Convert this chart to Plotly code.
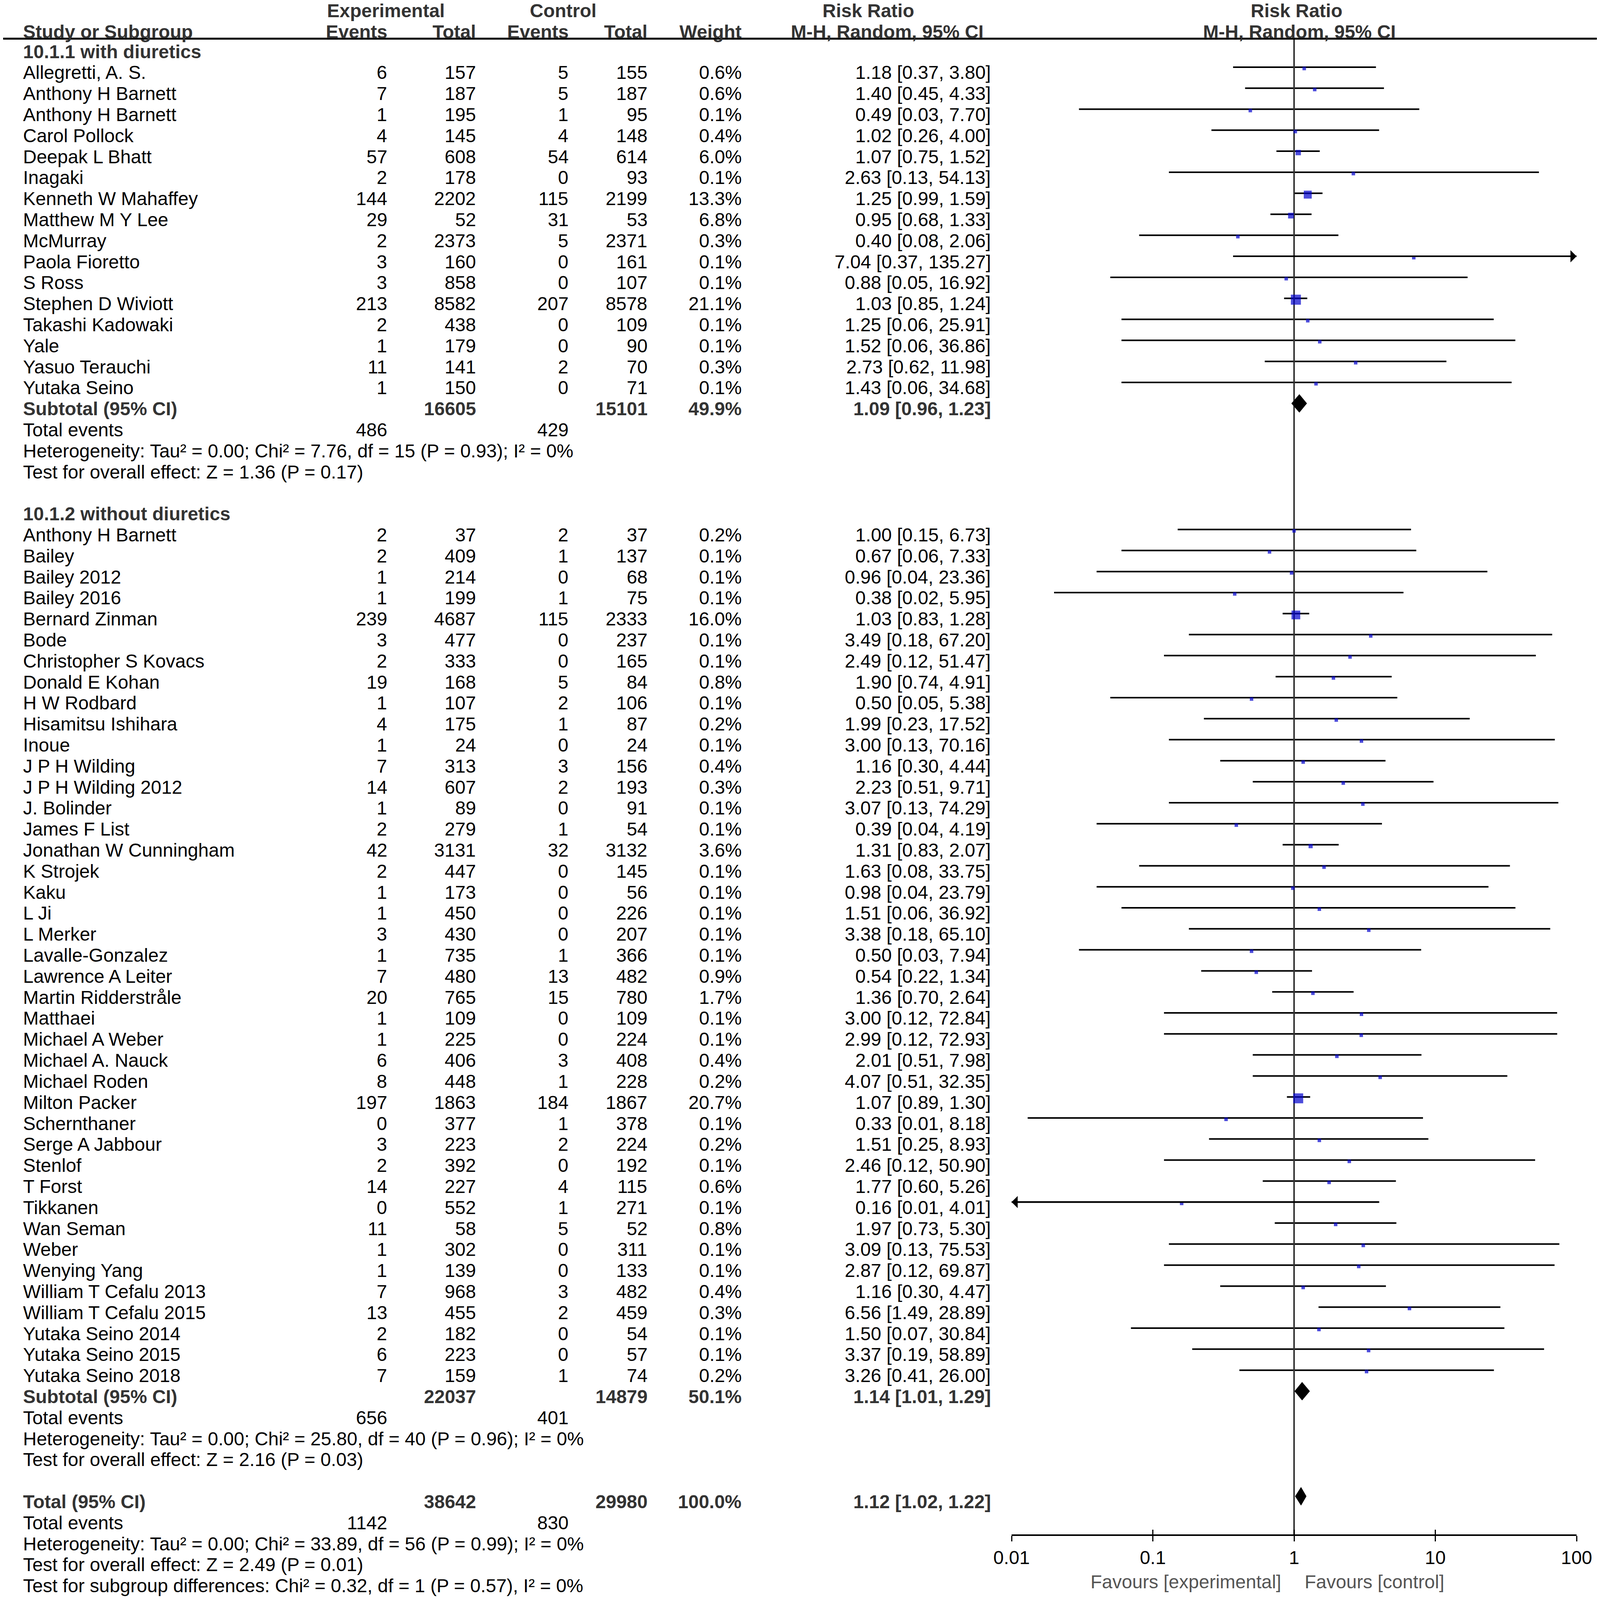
import math
import plotly.graph_objects as go

# ------------------------------------------------------------------ data
g1_label = "10.1.1 with diuretics"
g1_study = ["Allegretti, A. S.", "Anthony H Barnett", "Anthony H Barnett", "Carol Pollock",
            "Deepak L Bhatt", "Inagaki", "Kenneth W Mahaffey", "Matthew M Y Lee", "McMurray",
            "Paola Fioretto", "S Ross", "Stephen D Wiviott", "Takashi Kadowaki", "Yale",
            "Yasuo Terauchi", "Yutaka Seino"]
g1_ev_exp = [6, 7, 1, 4, 57, 2, 144, 29, 2, 3, 3, 213, 2, 1, 11, 1]
g1_tot_exp = [157, 187, 195, 145, 608, 178, 2202, 52, 2373, 160, 858, 8582, 438, 179, 141, 150]
g1_ev_ctl = [5, 5, 1, 4, 54, 0, 115, 31, 5, 0, 0, 207, 0, 0, 2, 0]
g1_tot_ctl = [155, 187, 95, 148, 614, 93, 2199, 53, 2371, 161, 107, 8578, 109, 90, 70, 71]
g1_weight = [0.6, 0.6, 0.1, 0.4, 6.0, 0.1, 13.3, 6.8, 0.3, 0.1, 0.1, 21.1, 0.1, 0.1, 0.3, 0.1]
g1_rr = [1.18, 1.40, 0.49, 1.02, 1.07, 2.63, 1.25, 0.95, 0.40, 7.04, 0.88, 1.03, 1.25, 1.52, 2.73, 1.43]
g1_lo = [0.37, 0.45, 0.03, 0.26, 0.75, 0.13, 0.99, 0.68, 0.08, 0.37, 0.05, 0.85, 0.06, 0.06, 0.62, 0.06]
g1_hi = [3.80, 4.33, 7.70, 4.00, 1.52, 54.13, 1.59, 1.33, 2.06, 135.27, 16.92, 1.24, 25.91, 36.86, 11.98, 34.68]

g2_label = "10.1.2 without diuretics"
g2_study = ["Anthony H Barnett", "Bailey", "Bailey 2012", "Bailey 2016", "Bernard Zinman", "Bode",
            "Christopher S Kovacs", "Donald E Kohan", "H W Rodbard", "Hisamitsu Ishihara", "Inoue",
            "J P H Wilding", "J P H Wilding 2012", "J. Bolinder", "James F List",
            "Jonathan W Cunningham", "K Strojek", "Kaku", "L Ji", "L Merker", "Lavalle-Gonzalez",
            "Lawrence A Leiter", "Martin Ridderstråle", "Matthaei", "Michael A Weber",
            "Michael A. Nauck", "Michael Roden", "Milton Packer", "Schernthaner", "Serge A Jabbour",
            "Stenlof", "T Forst", "Tikkanen", "Wan Seman", "Weber", "Wenying Yang",
            "William T Cefalu 2013", "William T Cefalu 2015", "Yutaka Seino 2014",
            "Yutaka Seino 2015", "Yutaka Seino 2018"]
g2_ev_exp = [2, 2, 1, 1, 239, 3, 2, 19, 1, 4, 1, 7, 14, 1, 2, 42, 2, 1, 1, 3, 1, 7, 20, 1, 1,
             6, 8, 197, 0, 3, 2, 14, 0, 11, 1, 1, 7, 13, 2, 6, 7]
g2_tot_exp = [37, 409, 214, 199, 4687, 477, 333, 168, 107, 175, 24, 313, 607, 89, 279, 3131, 447,
              173, 450, 430, 735, 480, 765, 109, 225, 406, 448, 1863, 377, 223, 392, 227, 552, 58,
              302, 139, 968, 455, 182, 223, 159]
g2_ev_ctl = [2, 1, 0, 1, 115, 0, 0, 5, 2, 1, 0, 3, 2, 0, 1, 32, 0, 0, 0, 0, 1, 13, 15, 0, 0,
             3, 1, 184, 1, 2, 0, 4, 1, 5, 0, 0, 3, 2, 0, 0, 1]
g2_tot_ctl = [37, 137, 68, 75, 2333, 237, 165, 84, 106, 87, 24, 156, 193, 91, 54, 3132, 145, 56,
              226, 207, 366, 482, 780, 109, 224, 408, 228, 1867, 378, 224, 192, 115, 271, 52, 311,
              133, 482, 459, 54, 57, 74]
g2_weight = [0.2, 0.1, 0.1, 0.1, 16.0, 0.1, 0.1, 0.8, 0.1, 0.2, 0.1, 0.4, 0.3, 0.1, 0.1, 3.6,
             0.1, 0.1, 0.1, 0.1, 0.1, 0.9, 1.7, 0.1, 0.1, 0.4, 0.2, 20.7, 0.1, 0.2, 0.1, 0.6,
             0.1, 0.8, 0.1, 0.1, 0.4, 0.3, 0.1, 0.1, 0.2]
g2_rr = [1.00, 0.67, 0.96, 0.38, 1.03, 3.49, 2.49, 1.90, 0.50, 1.99, 3.00, 1.16, 2.23, 3.07,
         0.39, 1.31, 1.63, 0.98, 1.51, 3.38, 0.50, 0.54, 1.36, 3.00, 2.99, 2.01, 4.07, 1.07,
         0.33, 1.51, 2.46, 1.77, 0.16, 1.97, 3.09, 2.87, 1.16, 6.56, 1.50, 3.37, 3.26]
g2_lo = [0.15, 0.06, 0.04, 0.02, 0.83, 0.18, 0.12, 0.74, 0.05, 0.23, 0.13, 0.30, 0.51, 0.13,
         0.04, 0.83, 0.08, 0.04, 0.06, 0.18, 0.03, 0.22, 0.70, 0.12, 0.12, 0.51, 0.51, 0.89,
         0.013, 0.25, 0.12, 0.60, 0.006, 0.73, 0.13, 0.12, 0.30, 1.49, 0.07, 0.19, 0.41]
g2_hi = [6.73, 7.33, 23.36, 5.95, 1.28, 67.20, 51.47, 4.91, 5.38, 17.52, 70.16, 4.44, 9.71,
         74.29, 4.19, 2.07, 33.75, 23.79, 36.92, 65.10, 7.94, 1.34, 2.64, 72.84, 72.93, 7.98,
         32.35, 1.30, 8.18, 8.93, 50.90, 5.26, 4.01, 5.30, 75.53, 69.87, 4.47, 28.89, 30.84,
         58.89, 26.00]

# subgroup summaries (group 1, group 2)
sub_tot_exp = [16605, 22037]
sub_tot_ctl = [15101, 14879]
sub_weight = [49.9, 50.1]
sub_rr = [1.09, 1.14]
sub_lo = [0.96, 1.01]
sub_hi = [1.23, 1.29]
sub_ev_exp = [486, 656]
sub_ev_ctl = [429, 401]
sub_tau2 = [0.00, 0.00]
sub_chi2 = [7.76, 25.80]
sub_df = [15, 40]
sub_het_p = [0.93, 0.96]
sub_i2 = [0, 0]
sub_z = [1.36, 2.16]
sub_z_p = [0.17, 0.03]

# overall
tot_tot_exp = 38642
tot_tot_ctl = 29980
tot_weight = 100.0
tot_rr, tot_lo, tot_hi = 1.12, 1.02, 1.22
tot_ev_exp, tot_ev_ctl = 1142, 830
tot_tau2, tot_chi2, tot_df, tot_het_p, tot_i2 = 0.00, 33.89, 56, 0.99, 0
tot_z, tot_z_p = 2.49, 0.01
sg_chi2, sg_df, sg_p, sg_i2 = 0.32, 1, 0.57, 0

tick_vals = [0.01, 0.1, 1, 10, 100]
tick_text = ["0.01", "0.1", "1", "10", "100"]
favours_left = "Favours [experimental]"
favours_right = "Favours [control]"

# ------------------------------------------------------------------ layout constants
# The browser viewport is capped at 4095 x 4096, so the figure keeps the reference's
# horizontal grid and compresses its vertical grid to fit.
W = 4095
FIG_H = 4096
REF_H = 5862                       # reference-pixel height mapped onto the figure
FONT = "Liberation Sans, Arial, Helvetica, sans-serif"
FS = 48
ROW0, ROWH = 189.0, 77.0           # reference-pixel centre of row 0, row pitch


def prow(py):                      # reference pixel -> row units
    return (py - ROW0) / ROWH


def frow(fp):                      # figure pixel -> row units
    return prow(fp * REF_H / FIG_H)


COL_X = [992, 1219, 1456, 1658, 1899, 2537]   # right edges of numeric columns
NAME_X = 58
FX0, FX1 = 2589, 4035                         # forest axis extent (0.01 .. 100)
LINE_DY = -20 / ROWH
MARK_DY = -15 / ROWH
DIA_H = 33 / ROWH
HEAD1_R = frow(27)
HEAD2_R = frow(81)
HLINE_R = frow(99)
AXIS_REF_PX = 5625
FAV_R = frow(4049)
BOLD_C = "#333333"

fig = go.Figure()


def txt(xpx, r, s, anchor="right", bold=False, color="black", size=FS):
    fig.add_annotation(x=xpx / W, xref="paper", y=r, yref="y",
                       text=("<b>%s</b>" % s if bold else s), showarrow=False,
                       xanchor=anchor, yanchor="middle", borderpad=0,
                       font=dict(family=FONT, size=size,
                                 color=(BOLD_C if bold and color == "black" else color)))


def ci_str(rr, lo, hi):
    return "%.2f [%.2f, %.2f]" % (rr, lo, hi)


# ---- headers
txt(987, HEAD1_R, "Experimental", anchor="center", bold=True)
txt(1441, HEAD1_R, "Control", anchor="center", bold=True)
txt(2222, HEAD1_R, "Risk Ratio", anchor="center", bold=True)
txt(3318, HEAD1_R, "Risk Ratio", anchor="center", bold=True)
txt(NAME_X, HEAD2_R, "Study or Subgroup", anchor="left", bold=True)
for cx, h in zip(COL_X[:5], ["Events", "Total", "Events", "Total", "Weight"]):
    txt(cx, HEAD2_R, h, bold=True)
txt(2270, HEAD2_R, "M-H, Random, 95% CI", anchor="center", bold=True)
txt(3325, HEAD2_R, "M-H, Random, 95% CI", anchor="center", bold=True)

fig.add_shape(type="line", xref="paper", yref="y", x0=8 / W, x1=4087 / W,
              y0=HLINE_R, y1=HLINE_R, line=dict(color="black", width=5))

# ---- rows
groups = [
    (g1_label, g1_study, g1_ev_exp, g1_tot_exp, g1_ev_ctl, g1_tot_ctl, g1_weight, g1_rr, g1_lo, g1_hi),
    (g2_label, g2_study, g2_ev_exp, g2_tot_exp, g2_ev_ctl, g2_tot_ctl, g2_weight, g2_rr, g2_lo, g2_hi),
]

ci_x, ci_y = [], []
mk_x, mk_y, mk_s = [], [], []
dia = []      # (row, rr, lo, hi)
arrows = []   # (row, tip, tail)

r = 0
for gi, (label, study, eve, tote, evc, totc, wt, rr, lo, hi) in enumerate(groups):
    txt(NAME_X, r, label, anchor="left", bold=True)
    r += 1
    for i in range(len(study)):
        txt(NAME_X, r, study[i], anchor="left")
        vals = [str(eve[i]), str(tote[i]), str(evc[i]), str(totc[i]), "%.1f%%" % wt[i],
                ci_str(rr[i], lo[i], hi[i])]
        for cx, v in zip(COL_X, vals):
            txt(cx, r, v)
        ci_x += [lo[i], hi[i], None]
        ci_y += [r + LINE_DY, r + LINE_DY, None]
        mk_x.append(rr[i])
        mk_y.append(r + MARK_DY)
        mk_s.append(max(9.0, 5.6 * math.sqrt(wt[i])))
        if hi[i] > tick_vals[-1]:
            arrows.append((r + LINE_DY, tick_vals[-1], lo[i]))
        if lo[i] < tick_vals[0]:
            arrows.append((r + LINE_DY, tick_vals[0], hi[i]))
        r += 1
    txt(NAME_X, r, "Subtotal (95% CI)", anchor="left", bold=True)
    txt(COL_X[1], r, str(sub_tot_exp[gi]), bold=True)
    txt(COL_X[3], r, str(sub_tot_ctl[gi]), bold=True)
    txt(COL_X[4], r, "%.1f%%" % sub_weight[gi], bold=True)
    txt(COL_X[5], r, ci_str(sub_rr[gi], sub_lo[gi], sub_hi[gi]), bold=True)
    dia.append((r + LINE_DY, sub_rr[gi], sub_lo[gi], sub_hi[gi]))
    r += 1
    txt(NAME_X, r, "Total events", anchor="left")
    txt(COL_X[0], r, str(sub_ev_exp[gi]))
    txt(COL_X[2], r, str(sub_ev_ctl[gi]))
    r += 1
    txt(NAME_X, r, "Heterogeneity: Tau² = %.2f; Chi² = %.2f, df = %d (P = %.2f); I² = %d%%"
        % (sub_tau2[gi], sub_chi2[gi], sub_df[gi], sub_het_p[gi], sub_i2[gi]), anchor="left")
    r += 1
    txt(NAME_X, r, "Test for overall effect: Z = %.2f (P = %.2f)" % (sub_z[gi], sub_z_p[gi]),
        anchor="left")
    r += 2

txt(NAME_X, r, "Total (95% CI)", anchor="left", bold=True)
txt(COL_X[1], r, str(tot_tot_exp), bold=True)
txt(COL_X[3], r, str(tot_tot_ctl), bold=True)
txt(COL_X[4], r, "%.1f%%" % tot_weight, bold=True)
txt(COL_X[5], r, ci_str(tot_rr, tot_lo, tot_hi), bold=True)
dia.append((r + LINE_DY, tot_rr, tot_lo, tot_hi))
r += 1
txt(NAME_X, r, "Total events", anchor="left")
txt(COL_X[0], r, str(tot_ev_exp))
txt(COL_X[2], r, str(tot_ev_ctl))
r += 1
txt(NAME_X, r, "Heterogeneity: Tau² = %.2f; Chi² = %.2f, df = %d (P = %.2f); I² = %d%%"
    % (tot_tau2, tot_chi2, tot_df, tot_het_p, tot_i2), anchor="left")
r += 1
txt(NAME_X, r, "Test for overall effect: Z = %.2f (P = %.2f)" % (tot_z, tot_z_p), anchor="left")
r += 1
txt(NAME_X, r, "Test for subgroup differences: Chi² = %.2f, df = %d (P = %.2f), I² = %d%%"
    % (sg_chi2, sg_df, sg_p, sg_i2), anchor="left")

# favours labels
txt(3280, FAV_R, favours_left, anchor="right", color="#555555")
txt(3338, FAV_R, favours_right, anchor="left", color="#555555")

# ---- forest traces
fig.add_trace(go.Scatter(x=ci_x, y=ci_y, mode="lines", line=dict(color="black", width=4),
                         hoverinfo="skip", showlegend=False))
fig.add_trace(go.Scatter(x=[1, 1], y=[HLINE_R, prow(AXIS_REF_PX)], mode="lines",
                         line=dict(color="#333333", width=4), hoverinfo="skip", showlegend=False))
for (yc, rr, lo, hi) in dia:
    fig.add_trace(go.Scatter(x=[lo, rr, hi, rr, lo], y=[yc, yc - DIA_H, yc, yc + DIA_H, yc],
                             mode="lines", fill="toself", fillcolor="black",
                             line=dict(color="black", width=1), hoverinfo="skip", showlegend=False))
fig.add_trace(go.Scatter(x=mk_x, y=mk_y, mode="markers",
                         marker=dict(symbol="square", size=mk_s, color="#0000cc", line=dict(width=0)),
                         hoverinfo="skip", showlegend=False, cliponaxis=False))
for (yc, tip, tail) in arrows:
    fig.add_annotation(x=math.log10(tip), y=yc, xref="x", yref="y",
                       ax=math.log10(tail), ay=yc, axref="x", ayref="y",
                       text="", showarrow=True, arrowhead=1, arrowsize=1.3,
                       arrowwidth=4, arrowcolor="black", standoff=0)

# invisible trace carrying the overlay tick axis (ticks above the axis line)
fig.add_trace(go.Scatter(x=[1], y=[0], xaxis="x2", yaxis="y", mode="markers",
                         marker=dict(opacity=0), hoverinfo="skip", showlegend=False))

dom = [FX0 / W, FX1 / W]
pos = 1 - AXIS_REF_PX / REF_H
fig.update_layout(
    width=W, height=FIG_H, autosize=False,
    margin=dict(l=0, r=0, t=0, b=0, pad=0, autoexpand=False),
    paper_bgcolor="white", plot_bgcolor="white",
    showlegend=False,
    xaxis=dict(type="log", range=[-2, 2], domain=dom, anchor="free", position=pos,
               showline=True, linewidth=4, linecolor="black",
               ticks="outside", ticklen=14, tickwidth=3, tickcolor="black",
               tickvals=tick_vals, ticktext=tick_text,
               tickfont=dict(family=FONT, size=FS, color="black"),
               showgrid=False, zeroline=False, fixedrange=True),
    xaxis2=dict(type="log", range=[-2, 2], domain=dom, anchor="free", position=pos,
                overlaying="x", showline=False, ticks="inside", ticklen=14, tickwidth=3,
                tickcolor="black", tickvals=tick_vals, showticklabels=False,
                showgrid=False, zeroline=False, fixedrange=True),
    yaxis=dict(range=[(REF_H - ROW0) / ROWH, -ROW0 / ROWH], domain=[0, 1], visible=False,
               showgrid=False, zeroline=False, fixedrange=True),
)

fig.write_html("out.html", config={"displayModeBar": False},
               post_script="document.body.style.margin='0';document.body.style.overflow='hidden';")
